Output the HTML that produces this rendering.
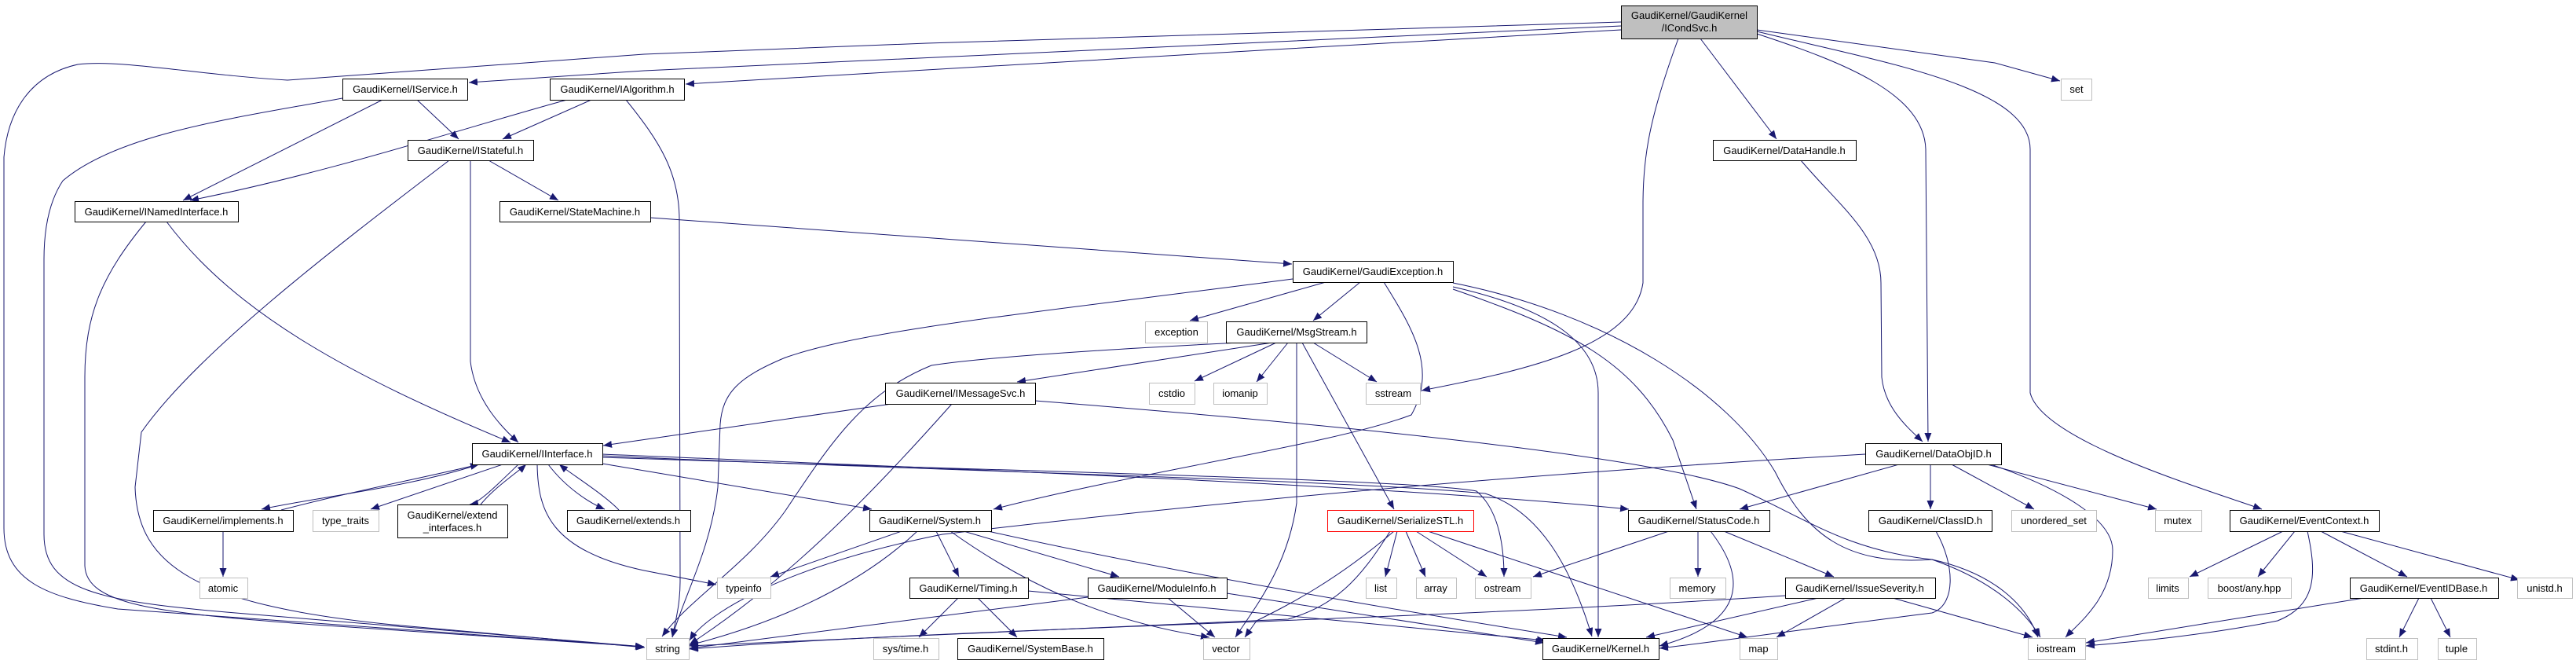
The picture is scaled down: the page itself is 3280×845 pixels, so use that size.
<!DOCTYPE html>
<html><head><meta charset="utf-8"><style>
html,body{margin:0;padding:0;background:#fff;}
svg{display:block;}
text{font-family:"Liberation Sans",sans-serif;font-size:13px;fill:#000;}
</style></head><body>
<svg width="3280" height="845" viewBox="0 0 3280 845" xmlns="http://www.w3.org/2000/svg">
<defs>
<marker id="a" markerUnits="userSpaceOnUse" markerWidth="12" markerHeight="10" refX="11" refY="4.5" orient="auto">
<path d="M0,0 L11,4.5 L0,9 Z" fill="#191970"/>
</marker>
</defs>
<g fill="none" stroke="#191970" stroke-width="1" marker-end="url(#a)">
<path d="M2064,28 L1180,55 L820,69 L366,102 C250,95 150,75 99,82 C40,95 10,140 5,200 L5,672 C5,740 60,760 150,775 L820,823"/>
<path d="M2064,33 L820,90 L597,105"/>
<path d="M2064,38 L1640,62 L873,107"/>
<path d="M2237,38 L2540,80 L2623,103"/>
<path d="M2237,40 C2400,80 2585,110 2585,190 L2585,500 C2600,560 2800,620 2880,648"/>
<path d="M2237,43 C2350,80 2450,120 2452,190 L2455,562"/>
<path d="M2165,49 L2262,177"/>
<path d="M2137,49 C2100,150 2092,200 2092,260 L2092,360 C2080,440 1950,470 1810,497"/>
<path d="M2293,204 C2340,260 2395,300 2395,360 L2396,480 C2400,520 2430,545 2448,562"/>
<path d="M436,125 C300,150 150,170 80,230 C60,260 56,300 56,330 L56,680 C56,750 120,765 300,780 L820,823"/>
<path d="M487,127 L233,255"/>
<path d="M531,127 L584,177"/>
<path d="M722,127 C600,160 420,220 242,255"/>
<path d="M753,127 L640,177"/>
<path d="M797,127 C840,180 865,220 865,280 L866,740 C866,770 860,790 856,811"/>
<path d="M186,282 C130,350 108,400 108,480 L108,720 C110,770 200,780 400,795 L820,823"/>
<path d="M212,282 C300,400 450,480 650,563"/>
<path d="M572,204 C420,320 250,450 180,550 L172,620 C175,720 250,770 500,795 L821,824"/>
<path d="M599,204 L599,460 C605,510 640,545 660,563"/>
<path d="M622,204 L711,255"/>
<path d="M828,277 L1645,336"/>
<path d="M1646,355 C1300,400 1100,420 1000,455 C940,480 920,500 917,540 L914,620 C905,700 870,760 856,811"/>
<path d="M1688,359 L1515,408"/>
<path d="M1732,359 L1672,408"/>
<path d="M1762,359 C1800,420 1830,470 1797,528 C1700,565 1450,600 1265,648"/>
<path d="M1850,365 C1960,390 2035,430 2035,500 L2035,811"/>
<path d="M1850,368 C2000,420 2080,460 2130,560 L2160,648"/>
<path d="M1850,360 C2050,400 2200,500 2260,600 C2300,680 2350,720 2460,712 C2540,740 2580,780 2598,811"/>
<path d="M1620,436 L1295,486"/>
<path d="M1578,436 C1400,445 1250,455 1186,465 C1100,500 1060,560 1000,650 C950,720 880,760 843,810"/>
<path d="M1625,436 L1521,485"/>
<path d="M1640,436 L1600,486"/>
<path d="M1672,436 L1753,486"/>
<path d="M1658,436 L1775,648"/>
<path d="M1651,436 L1651,640 C1640,720 1600,770 1573,811"/>
<path d="M1135,514 L768,567"/>
<path d="M1212,514 C1100,640 1000,740 878,820"/>
<path d="M1318,510 C1700,540 2100,580 2215,622 C2300,660 2350,700 2460,712 C2540,730 2580,770 2595,811"/>
<path d="M610,591 C520,620 420,630 333,648"/>
<path d="M358,649 C450,625 530,610 610,591"/>
<path d="M640,591 L472,648"/>
<path d="M660,591 C630,620 610,640 598,642"/>
<path d="M612,642 C630,620 660,600 670,591"/>
<path d="M698,591 C720,620 750,640 770,648"/>
<path d="M788,649 C770,630 730,605 712,591"/>
<path d="M684,591 C685,650 700,700 820,726 L912,744"/>
<path d="M767,590 L1110,648"/>
<path d="M767,578 C1300,600 1800,620 2074,648"/>
<path d="M767,580 C1200,600 1700,610 1891,628 C1960,650 2000,720 2027,810"/>
<path d="M767,582 C1300,600 1800,610 1880,625 C1910,650 1915,700 1915,734"/>
<path d="M284,676 L284,734"/>
<path d="M1148,676 L981,734"/>
<path d="M1168,676 C1100,740 1000,790 878,821"/>
<path d="M1192,676 L1221,734"/>
<path d="M1227,676 L1425,734"/>
<path d="M1210,676 C1300,740 1400,790 1540,811"/>
<path d="M1258,676 C1500,730 1800,780 1995,811"/>
<path d="M1220,761 L1170,811"/>
<path d="M1245,761 L1295,811"/>
<path d="M1309,752 L1968,815"/>
<path d="M1385,760 L878,825"/>
<path d="M1487,761 L1547,811"/>
<path d="M1562,755 L1966,818"/>
<path d="M1770,676 C1730,740 1700,770 1640,788 L878,822"/>
<path d="M1775,676 C1700,740 1640,770 1600,790 L1585,811"/>
<path d="M1779,676 L1764,734"/>
<path d="M1790,676 L1815,734"/>
<path d="M1803,676 L1893,734"/>
<path d="M1818,676 L2225,811"/>
<path d="M2125,676 L1952,734"/>
<path d="M2162,676 L2162,734"/>
<path d="M2178,676 C2220,730 2230,790 2113,822"/>
<path d="M2195,676 L2335,734"/>
<path d="M2273,758 C1800,790 1200,800 878,826"/>
<path d="M2315,761 L2096,811"/>
<path d="M2350,761 L2262,811"/>
<path d="M2410,761 L2588,811"/>
<path d="M2418,591 L2215,648"/>
<path d="M2375,578 C2000,600 1640,628 1200,680 C1000,720 900,780 878,815"/>
<path d="M2458,591 L2458,648"/>
<path d="M2485,591 L2590,648"/>
<path d="M2530,591 L2746,648"/>
<path d="M2535,591 C2620,620 2690,660 2690,700 C2690,760 2650,790 2630,811"/>
<path d="M2465,676 C2490,720 2490,770 2460,780 C2300,800 2200,815 2113,825"/>
<path d="M2907,676 L2788,734"/>
<path d="M2922,676 L2875,734"/>
<path d="M2938,676 C2950,730 2950,770 2900,790 C2800,810 2700,818 2656,822"/>
<path d="M2955,676 L3065,734"/>
<path d="M2980,676 L3208,738"/>
<path d="M3010,761 L2656,818"/>
<path d="M3080,761 L3055,811"/>
<path d="M3095,761 L3120,811"/>
</g>
<g stroke-width="1">
<rect x="2064.5" y="7.5" width="173" height="42" fill="#bfbfbf" stroke="#000"/>
<g fill="#fff" stroke="#000">
<rect x="436.5" y="100.5" width="159" height="27"/>
<rect x="700.5" y="100.5" width="171" height="27"/>
<rect x="519.5" y="178.5" width="160" height="26"/>
<rect x="2181.5" y="178.5" width="182" height="26"/>
<rect x="95.5" y="256.5" width="208" height="26"/>
<rect x="636.5" y="256.5" width="192" height="26"/>
<rect x="1646.5" y="332.5" width="204" height="27"/>
<rect x="1561.5" y="409.5" width="179" height="27"/>
<rect x="1127.5" y="487.5" width="191" height="27"/>
<rect x="601.5" y="564.5" width="166" height="27"/>
<rect x="2375.5" y="564.5" width="173" height="27"/>
<rect x="195.5" y="649.5" width="178" height="27"/>
<rect x="506.5" y="642.5" width="140" height="42"/>
<rect x="722.5" y="649.5" width="157" height="27"/>
<rect x="1107.5" y="649.5" width="155" height="27"/>
<rect x="2073.5" y="649.5" width="180" height="27"/>
<rect x="2379.5" y="649.5" width="157" height="27"/>
<rect x="2839.5" y="649.5" width="190" height="27"/>
<rect x="1158.5" y="735.5" width="151" height="26"/>
<rect x="1385.5" y="735.5" width="177" height="26"/>
<rect x="2273.5" y="735.5" width="191" height="26"/>
<rect x="2992.5" y="735.5" width="189" height="26"/>
<rect x="1219.5" y="812.5" width="186" height="27"/>
<rect x="1964.5" y="812.5" width="148" height="27"/>
</g>
<rect x="1690.5" y="649.5" width="186" height="27" fill="#fff" stroke="#ff0000"/>
<g fill="#fff" stroke="#bfbfbf">
<rect x="2624.5" y="100.5" width="39" height="27"/>
<rect x="1458.5" y="409.5" width="79" height="27"/>
<rect x="1463.5" y="487.5" width="58" height="27"/>
<rect x="1545.5" y="487.5" width="68" height="27"/>
<rect x="1739.5" y="487.5" width="69" height="27"/>
<rect x="398.5" y="649.5" width="84" height="27"/>
<rect x="2561.5" y="649.5" width="108" height="27"/>
<rect x="2744.5" y="649.5" width="59" height="27"/>
<rect x="254.5" y="735.5" width="61" height="26"/>
<rect x="913.5" y="735.5" width="68" height="26"/>
<rect x="1739.5" y="735.5" width="39" height="26"/>
<rect x="1803.5" y="735.5" width="51" height="26"/>
<rect x="1878.5" y="735.5" width="71" height="26"/>
<rect x="2126.5" y="735.5" width="71" height="26"/>
<rect x="2735.5" y="735.5" width="51" height="26"/>
<rect x="2811.5" y="735.5" width="106" height="26"/>
<rect x="3205.5" y="735.5" width="70" height="26"/>
<rect x="823.5" y="812.5" width="54" height="27"/>
<rect x="1112.5" y="812.5" width="83" height="27"/>
<rect x="1532.5" y="812.5" width="59" height="27"/>
<rect x="2215.5" y="812.5" width="48" height="27"/>
<rect x="2582.5" y="812.5" width="73" height="27"/>
<rect x="3013.5" y="812.5" width="65" height="27"/>
<rect x="3104.5" y="812.5" width="49" height="27"/>
</g>
</g>
<g text-anchor="middle">
<text x="2151" y="24">GaudiKernel/GaudiKernel</text>
<text x="2151" y="40">/ICondSvc.h</text>
<text x="516" y="118">GaudiKernel/IService.h</text>
<text x="786" y="118">GaudiKernel/IAlgorithm.h</text>
<text x="2644" y="118">set</text>
<text x="599" y="196">GaudiKernel/IStateful.h</text>
<text x="2272" y="196">GaudiKernel/DataHandle.h</text>
<text x="199" y="274">GaudiKernel/INamedInterface.h</text>
<text x="732" y="274">GaudiKernel/StateMachine.h</text>
<text x="1748" y="350">GaudiKernel/GaudiException.h</text>
<text x="1498" y="427">exception</text>
<text x="1651" y="427">GaudiKernel/MsgStream.h</text>
<text x="1223" y="505">GaudiKernel/IMessageSvc.h</text>
<text x="1492" y="505">cstdio</text>
<text x="1579" y="505">iomanip</text>
<text x="1774" y="505">sstream</text>
<text x="684" y="582">GaudiKernel/IInterface.h</text>
<text x="2462" y="582">GaudiKernel/DataObjID.h</text>
<text x="284" y="667">GaudiKernel/implements.h</text>
<text x="440" y="667">type_traits</text>
<text x="576" y="660">GaudiKernel/extend</text>
<text x="576" y="676">_interfaces.h</text>
<text x="800" y="667">GaudiKernel/extends.h</text>
<text x="1184" y="667">GaudiKernel/System.h</text>
<text x="1783" y="667">GaudiKernel/SerializeSTL.h</text>
<text x="2163" y="667">GaudiKernel/StatusCode.h</text>
<text x="2458" y="667">GaudiKernel/ClassID.h</text>
<text x="2615" y="667">unordered_set</text>
<text x="2773" y="667">mutex</text>
<text x="2934" y="667">GaudiKernel/EventContext.h</text>
<text x="284" y="753">atomic</text>
<text x="947" y="753">typeinfo</text>
<text x="1233" y="753">GaudiKernel/Timing.h</text>
<text x="1473" y="753">GaudiKernel/ModuleInfo.h</text>
<text x="1758" y="753">list</text>
<text x="1828" y="753">array</text>
<text x="1913" y="753">ostream</text>
<text x="2161" y="753">memory</text>
<text x="2368" y="753">GaudiKernel/IssueSeverity.h</text>
<text x="2760" y="753">limits</text>
<text x="2864" y="753">boost/any.hpp</text>
<text x="3086" y="753">GaudiKernel/EventIDBase.h</text>
<text x="3240" y="753">unistd.h</text>
<text x="850" y="830">string</text>
<text x="1153" y="830">sys/time.h</text>
<text x="1312" y="830">GaudiKernel/SystemBase.h</text>
<text x="1561" y="830">vector</text>
<text x="2038" y="830">GaudiKernel/Kernel.h</text>
<text x="2239" y="830">map</text>
<text x="2618" y="830">iostream</text>
<text x="3045" y="830">stdint.h</text>
<text x="3128" y="830">tuple</text>
</g>
</svg>
</body></html>
